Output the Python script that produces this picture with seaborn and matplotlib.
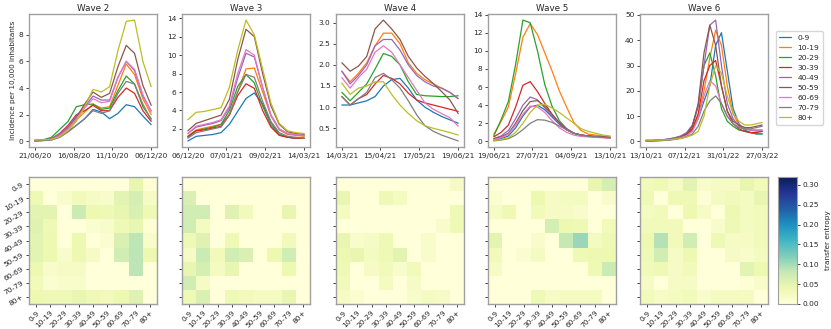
import numpy as np
import pandas as pd
import matplotlib
matplotlib.use("Agg")
import matplotlib.pyplot as plt
import matplotlib.dates as mdates
import seaborn as sns

ages = ["0-9", "10-19", "20-29", "30-39", "40-49", "50-59", "60-69", "70-79", "80+"]
wave_names = ["Wave 2", "Wave 3", "Wave 4", "Wave 5", "Wave 6"]

# date range of each wave and its tick labels
wave_start = ["21/06/20", "06/12/20", "14/03/21", "19/06/21", "13/10/21"]
wave_end = ["06/12/20", "14/03/21", "19/06/21", "13/10/21", "27/03/22"]
wave_ticks = [
    ["21/06/20", "16/08/20", "11/10/20", "06/12/20"],
    ["06/12/20", "07/01/21", "09/02/21", "14/03/21"],
    ["14/03/21", "15/04/21", "17/05/21", "19/06/21"],
    ["19/06/21", "27/07/21", "04/09/21", "13/10/21"],
    ["13/10/21", "07/12/21", "31/01/22", "27/03/22"],
]

# incidence per 10,000 inhabitants, one row per age group (0-9 ... 80+)
wave2 = [
    [0.05, 0.07, 0.12, 0.35, 0.75, 1.2, 1.7, 2.4, 2.2, 1.7, 2.1, 2.75, 2.6, 1.9, 1.25],
    [0.05, 0.08, 0.15, 0.45, 0.95, 1.6, 2.2, 2.8, 2.5, 2.6, 4.2, 5.8, 5.0, 3.2, 2.0],
    [0.1, 0.12, 0.3, 0.9, 1.5, 2.6, 2.75, 2.8, 2.4, 2.5, 3.8, 4.9, 4.3, 2.6, 1.7],
    [0.05, 0.08, 0.2, 0.6, 1.2, 2.0, 2.3, 2.7, 2.3, 2.3, 3.3, 4.0, 3.6, 2.3, 1.5],
    [0.05, 0.08, 0.2, 0.55, 1.1, 1.9, 2.6, 3.4, 3.1, 3.1, 4.8, 6.0, 5.3, 3.4, 2.3],
    [0.05, 0.08, 0.15, 0.45, 1.0, 1.8, 2.8, 3.7, 3.3, 3.6, 5.6, 7.2, 6.6, 4.2, 2.7],
    [0.05, 0.07, 0.15, 0.45, 0.95, 1.7, 2.5, 3.2, 2.9, 3.0, 4.8, 6.0, 5.4, 3.5, 2.2],
    [0.03, 0.05, 0.1, 0.3, 0.7, 1.2, 1.7, 2.3, 2.1, 2.3, 3.6, 4.5, 4.3, 2.8, 1.6],
    [0.1, 0.12, 0.15, 0.35, 0.8, 1.5, 2.6, 3.9, 3.7, 4.1, 6.8, 9.0, 9.1, 6.0, 4.1],
]
wave3 = [
    [0.7, 1.2, 1.3, 1.4, 1.6, 2.5, 3.9, 5.3, 5.9, 4.7, 2.7, 1.4, 1.1, 1.0, 1.0],
    [1.2, 1.9, 2.1, 2.3, 2.5, 3.6, 6.0, 8.5, 8.6, 6.0, 3.4, 1.9, 1.4, 1.3, 1.2],
    [1.1, 1.8, 2.0, 2.2, 2.5, 4.0, 6.6, 7.9, 7.0, 4.5, 2.4, 1.4, 1.1, 1.0, 1.0],
    [1.2, 1.8, 1.9, 2.1, 2.3, 3.5, 5.6, 6.9, 6.4, 4.0, 2.2, 1.3, 1.1, 1.0, 1.0],
    [1.5, 2.2, 2.4, 2.6, 2.9, 4.3, 7.5, 10.2, 9.8, 6.5, 3.5, 2.0, 1.5, 1.4, 1.3],
    [1.8, 2.6, 2.9, 3.2, 3.5, 5.2, 9.5, 12.8, 12.0, 8.0, 4.5, 2.5, 1.7, 1.5, 1.4],
    [1.5, 2.3, 2.5, 2.7, 3.0, 4.5, 8.0, 10.6, 10.0, 6.5, 3.5, 2.0, 1.5, 1.4, 1.3],
    [1.0, 1.6, 1.8, 2.0, 2.2, 3.5, 6.0, 7.9, 7.6, 5.0, 2.8, 1.6, 1.2, 1.1, 1.0],
    [3.0, 3.8, 3.9, 4.1, 4.3, 6.5, 10.5, 13.8, 12.2, 8.5, 4.8, 2.6, 1.8, 1.6, 1.5],
]
wave4 = [
    [1.05, 1.05, 1.1, 1.15, 1.25, 1.5, 1.65, 1.68, 1.45, 1.17, 1.0, 0.88, 0.78, 0.7, 0.62],
    [1.85, 1.6, 1.8, 2.05, 2.45, 2.75, 2.75, 2.5, 2.05, 1.8, 1.65, 1.55, 1.45, 1.35, 1.2],
    [1.35, 1.15, 1.35, 1.55, 1.9, 2.27, 2.2, 2.0, 1.6, 1.3, 1.27, 1.26, 1.25, 1.25, 1.27],
    [1.25, 1.05, 1.2, 1.3, 1.55, 1.75, 1.68, 1.55, 1.33, 1.17, 1.1, 1.05, 1.0, 0.95, 0.9],
    [1.85, 1.55, 1.75, 2.0, 2.45, 2.6, 2.6, 2.35, 2.0, 1.75, 1.6, 1.5, 1.45, 1.35, 1.2],
    [2.05, 1.85, 1.97, 2.2, 2.85, 3.06, 2.85, 2.6, 2.2, 1.93, 1.73, 1.56, 1.37, 1.17, 0.85],
    [1.7, 1.45, 1.7, 1.9, 2.3, 2.45, 2.3, 2.0, 1.7, 1.4, 1.1, 0.95, 0.85, 0.75, 0.55],
    [1.25, 1.05, 1.2, 1.35, 1.7, 1.8, 1.65, 1.45, 1.15, 0.82, 0.56, 0.43, 0.34, 0.27, 0.2],
    [1.57, 1.3, 1.45, 1.5, 1.6, 1.6, 1.3, 1.05, 0.85, 0.68, 0.56, 0.5, 0.45, 0.4, 0.34],
]
wave5 = [
    [0.1, 0.3, 0.6, 1.5, 2.8, 3.8, 4.0, 3.5, 2.7, 1.9, 1.3, 0.9, 0.7, 0.6, 0.55, 0.5, 0.45],
    [0.8, 2.2, 3.8, 7.5, 11.5, 13.0, 11.8, 9.8, 7.8, 5.6, 3.8, 2.1, 1.2, 0.8, 0.7, 0.6, 0.5],
    [0.6, 2.4, 4.4, 8.5, 13.4, 13.1, 10.0, 6.3, 3.9, 2.3, 1.4, 0.9, 0.7, 0.55, 0.5, 0.45, 0.4],
    [0.5, 1.0, 1.8, 3.8, 6.2, 6.6, 5.5, 4.2, 3.0, 2.0, 1.3, 0.9, 0.7, 0.6, 0.5, 0.45, 0.4],
    [0.3, 0.6, 1.2, 2.5, 4.0, 4.9, 4.6, 3.7, 2.8, 2.0, 1.3, 0.9, 0.7, 0.6, 0.5, 0.45, 0.4],
    [0.3, 0.5, 0.9, 2.0, 3.4, 4.4, 4.5, 3.9, 3.0, 2.1, 1.4, 0.9, 0.7, 0.6, 0.55, 0.5, 0.45],
    [0.2, 0.4, 0.8, 1.8, 3.0, 3.9, 3.8, 3.2, 2.3, 1.5, 1.0, 0.7, 0.55, 0.5, 0.45, 0.4, 0.35],
    [0.05, 0.15, 0.3, 0.7, 1.3, 2.0, 2.4, 2.35, 2.1, 1.7, 1.3, 0.9, 0.7, 0.55, 0.5, 0.45, 0.4],
    [0.1, 0.2, 0.4, 1.0, 2.0, 3.2, 4.0, 4.1, 3.7, 3.2, 2.6, 2.0, 1.4, 1.1, 0.9, 0.7, 0.6],
]
wave6 = [
    [0.2, 0.2, 0.3, 0.4, 0.6, 0.9, 1.4, 2.2, 4.5, 9, 16, 22, 38, 43, 28, 13, 7, 4.5, 3.5, 3.0, 3.0],
    [0.3, 0.3, 0.4, 0.5, 0.7, 1.0, 1.5, 2.5, 5, 10, 20, 33, 44, 38, 22, 11, 6.5, 5, 4.5, 4, 4],
    [0.4, 0.4, 0.5, 0.7, 1.0, 1.5, 2.0, 3.0, 6, 14, 30, 35, 26, 13, 8, 6, 4.5, 4, 3.5, 3, 3],
    [0.3, 0.3, 0.4, 0.5, 0.8, 1.2, 1.8, 2.8, 5, 11, 24, 30, 32, 22, 12, 7, 5, 4, 3.5, 3.5, 4],
    [0.4, 0.4, 0.5, 0.7, 1.0, 1.4, 2.2, 3.5, 6.5, 14, 30, 46, 48, 30, 15, 9, 6, 5, 4.5, 4.5, 4.5],
    [0.4, 0.4, 0.5, 0.6, 0.8, 1.1, 1.8, 3.0, 6.0, 15, 35, 46, 38, 22, 12, 8, 6.5, 5.5, 5.5, 6.0, 6.5],
    [0.3, 0.3, 0.4, 0.5, 0.7, 1.0, 1.5, 2.3, 4, 9, 18, 24, 22, 15, 10, 7, 5.5, 5, 4.5, 4.5, 4.5],
    [0.3, 0.3, 0.3, 0.4, 0.6, 0.8, 1.2, 1.8, 3, 6, 12, 16, 18, 15, 10, 7, 5.5, 5, 5, 5.5, 6],
    [0.5, 0.5, 0.5, 0.6, 0.7, 0.9, 1.2, 1.8, 2.5, 4, 10, 22, 30, 27, 18, 11, 8, 6.5, 6.5, 7, 7.5],
]

# transfer entropy between age groups (row -> column)
te_wave2 = [
    [0, 0, 0, 0, 0, 0, 0, 0.045, 0.005],
    [0.035, 0, 0.015, 0.03, 0.02, 0.015, 0.05, 0.065, 0.02],
    [0.05, 0.05, 0, 0.075, 0.04, 0.035, 0.045, 0.06, 0.035],
    [0.055, 0.035, 0, 0, 0.01, 0.015, 0.035, 0.045, 0.005],
    [0.05, 0.04, 0, 0.04, 0, 0.01, 0.06, 0.085, 0.015],
    [0.05, 0.04, 0.015, 0.04, 0.02, 0, 0.07, 0.085, 0.04],
    [0.04, 0.015, 0.02, 0.02, 0, 0, 0, 0.085, 0],
    [0.03, 0.01, 0.015, 0.015, 0, 0, 0, 0, 0],
    [0.04, 0.035, 0.035, 0.045, 0.035, 0.03, 0.04, 0.055, 0],
]
te_wave3 = [
    [0, 0, 0, 0, 0, 0, 0, 0, 0],
    [0.06, 0, 0, 0, 0, 0, 0, 0, 0],
    [0.07, 0.07, 0, 0.055, 0.03, 0, 0, 0.045, 0],
    [0.07, 0.025, 0, 0, 0, 0, 0, 0, 0],
    [0.035, 0.055, 0, 0.035, 0, 0, 0, 0.03, 0],
    [0.02, 0.075, 0.03, 0.07, 0.06, 0, 0.04, 0.07, 0],
    [0.045, 0.065, 0.025, 0.045, 0, 0, 0, 0.04, 0],
    [0.07, 0.02, 0, 0, 0, 0, 0, 0, 0],
    [0.035, 0.06, 0, 0.035, 0.03, 0.025, 0.025, 0.045, 0],
]
te_wave4 = [
    [0, 0, 0, 0, 0, 0, 0, 0, 0.02],
    [0.045, 0, 0, 0.035, 0.025, 0, 0, 0, 0],
    [0.025, 0, 0, 0, 0, 0, 0, 0, 0.035],
    [0, 0, 0, 0, 0, 0, 0, 0.015, 0.035],
    [0.045, 0.015, 0.02, 0.035, 0, 0, 0.015, 0, 0],
    [0.04, 0.045, 0.025, 0.035, 0.05, 0, 0.015, 0, 0],
    [0.035, 0, 0.02, 0.03, 0.015, 0.03, 0, 0, 0],
    [0.03, 0, 0, 0.025, 0, 0.02, 0, 0, 0],
    [0.02, 0.01, 0, 0, 0, 0.015, 0.025, 0.02, 0],
]
te_wave5 = [
    [0, 0, 0, 0, 0, 0, 0, 0.045, 0.065],
    [0.01, 0, 0, 0.04, 0.02, 0.025, 0.025, 0, 0.015],
    [0.02, 0.035, 0, 0.03, 0.02, 0.02, 0.015, 0, 0],
    [0, 0, 0, 0, 0.065, 0.04, 0.035, 0, 0.03],
    [0.05, 0, 0, 0.015, 0, 0.08, 0.105, 0.025, 0.035],
    [0.03, 0, 0.01, 0.025, 0, 0, 0.035, 0.04, 0.04],
    [0.02, 0, 0, 0, 0, 0, 0, 0.035, 0.075],
    [0, 0, 0, 0, 0, 0, 0, 0, 0],
    [0, 0, 0, 0.035, 0.02, 0.025, 0.025, 0.025, 0],
]
te_wave6 = [
    [0.03, 0.035, 0.02, 0.05, 0.015, 0.02, 0.02, 0.045, 0.03],
    [0.035, 0, 0.035, 0.035, 0.005, 0.025, 0.03, 0.025, 0.045],
    [0.025, 0.03, 0, 0.04, 0.02, 0, 0.04, 0.025, 0.03],
    [0.03, 0.03, 0.03, 0, 0, 0.015, 0.035, 0.025, 0.03],
    [0.04, 0.09, 0.03, 0.07, 0, 0.035, 0.02, 0.02, 0.03],
    [0.035, 0.07, 0.02, 0.04, 0, 0, 0.02, 0.015, 0.025],
    [0.03, 0.035, 0.02, 0.03, 0, 0, 0, 0.05, 0.04],
    [0.02, 0, 0.02, 0.02, 0, 0, 0, 0.005, 0.015],
    [0.03, 0.02, 0.025, 0.03, 0.015, 0.025, 0.025, 0.025, 0],
]

waves = [wave2, wave3, wave4, wave5, wave6]
te_waves = [te_wave2, te_wave3, te_wave4, te_wave5, te_wave6]

sns.set_style("ticks")
plt.rcParams["font.family"] = ["DejaVu Sans"]
palette = sns.color_palette("tab10", 9)
frame_col = "#a0a0a0"

fig = plt.figure(figsize=(8.31, 3.29), dpi=100)
W, H = 831, 329
lefts = [29, 182, 336, 488, 640]
aw = 128


def box(l, t, w, h):
    return [l / W, 1 - (t + h) / H, w / W, h / H]


for i, name in enumerate(wave_names):
    ax = fig.add_axes(box(lefts[i], 14, aw, 133))
    rows = []
    for a, vals in zip(ages, waves[i]):
        dates = pd.date_range(pd.to_datetime(wave_start[i], dayfirst=True),
                              pd.to_datetime(wave_end[i], dayfirst=True),
                              periods=len(vals))
        rows.append(pd.DataFrame({"date": dates, "value": vals, "age": a}))
    df = pd.concat(rows)
    sns.lineplot(data=df, x="date", y="value", hue="age", hue_order=ages,
                 palette=palette, linewidth=0.9, legend=(i == 4), ax=ax)
    ax.set_title(name, fontsize=6.3, pad=2)
    ax.set_xticks(pd.to_datetime(wave_ticks[i], dayfirst=True))
    ax.xaxis.set_major_formatter(mdates.DateFormatter("%d/%m/%y"))
    ax.set_xlabel("")
    ax.set_ylabel("Incidence per 10,000 inhabitants" if i == 0 else "", fontsize=5.2, labelpad=2)
    ax.tick_params(labelsize=5.3, length=2.5, width=0.6, pad=1.5)
    for s in ax.spines.values():
        s.set_color(frame_col)
        s.set_linewidth(1.0)
    if i == 4:
        handles, labels = ax.get_legend_handles_labels()
        ax.legend(handles, labels, loc="upper left", bbox_to_anchor=(1.03, 0.9),
                  fontsize=5.4, frameon=True, handlelength=1.6, labelspacing=0.5,
                  borderpad=0.5, title=None)

cax = fig.add_axes(box(778, 177, 19, 127))
for i in range(5):
    ax = fig.add_axes(box(lefts[i], 177, aw, 127))
    mat = pd.DataFrame(np.array(te_waves[i]), index=ages, columns=ages)
    sns.heatmap(mat, ax=ax, cmap="YlGnBu", vmin=0, vmax=0.32,
                cbar=(i == 4), cbar_ax=cax if i == 4 else None,
                xticklabels=ages, yticklabels=ages if i == 0 else False,
                cbar_kws={"label": "transfer entropy"} if i == 4 else None)
    ax.set_xticklabels(ages, rotation=45, ha="right", rotation_mode="anchor", fontsize=5.3)
    if i == 0:
        ax.set_yticklabels(ages, rotation=30, ha="right", rotation_mode="anchor", fontsize=5.3)
    else:
        ax.set_yticks(np.arange(9) + 0.5)
        ax.set_yticklabels([])
    ax.tick_params(length=2.5, width=0.6, pad=1.5)
    for s in ax.spines.values():
        s.set_visible(True)
        s.set_color(frame_col)
        s.set_linewidth(1.0)

cax.tick_params(labelsize=5.3, length=2.5, width=0.6, pad=1.5)
cax.yaxis.label.set_size(5.3)
for s in cax.spines.values():
    s.set_visible(True)
    s.set_color(frame_col)

fig.savefig("out.png", dpi=100)
